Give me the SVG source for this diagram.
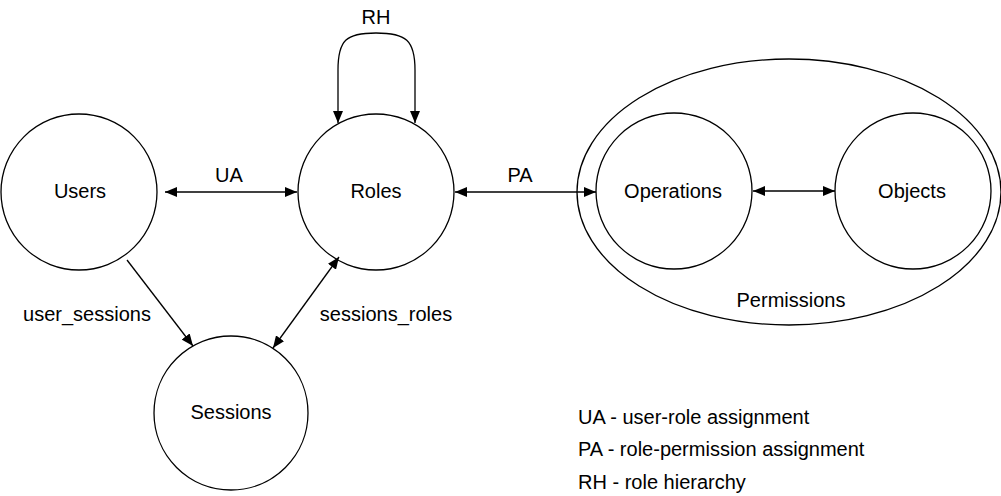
<svg xmlns="http://www.w3.org/2000/svg" width="1001" height="496" viewBox="0 0 1001 496">
  <style>
    .shape { fill: #ffffff; stroke: #000000; stroke-width: 1.3; }
    .edge { fill: none; stroke: #000000; stroke-width: 1.3; }
    text { font-family: "Liberation Sans", Arial, Helvetica, sans-serif; font-size: 20px; fill: #000000; }
    .c { text-anchor: middle; }
  </style>
  <defs>
    <marker id="arrow" viewBox="0 0 12 10" refX="12" refY="5" markerWidth="12" markerHeight="10" markerUnits="userSpaceOnUse" orient="auto-start-reverse">
      <path d="M0,0 L12,5 L0,10 Z" fill="#000000"/>
    </marker>
  </defs>

  <rect width="1001" height="496" fill="#ffffff"/>

  <!-- permission container -->
  <g id="permissions">
    <ellipse class="shape" cx="789" cy="192" rx="212" ry="133"/>
    <text class="c" x="791" y="307">Permissions</text>
  </g>

  <g id="users">
    <circle class="shape" cx="79" cy="192" r="78"/>
    <text class="c" x="80" y="198">Users</text>
  </g>

  <g id="roles">
    <circle class="shape" cx="376" cy="192" r="78"/>
    <text class="c" x="376" y="198">Roles</text>
  </g>

  <g id="sessions">
    <circle class="shape" cx="231" cy="413" r="77"/>
    <text class="c" x="231" y="419">Sessions</text>
  </g>

  <g id="operations">
    <circle class="shape" cx="674" cy="191" r="78"/>
    <text class="c" x="673" y="198">Operations</text>
  </g>

  <g id="objects">
    <circle class="shape" cx="913" cy="191" r="78"/>
    <text class="c" x="912" y="198">Objects</text>
  </g>

  <!-- connectors -->
  <g id="connectors">
    <path class="edge" d="M165,192 L297,192" marker-start="url(#arrow)" marker-end="url(#arrow)"/>
    <text class="c" x="229" y="182">UA</text>

    <path class="edge" d="M455,192 L596,192" marker-start="url(#arrow)" marker-end="url(#arrow)"/>
    <text class="c" x="520" y="182">PA</text>

    <path class="edge" d="M753,191 L835,191" marker-start="url(#arrow)" marker-end="url(#arrow)"/>

    <path class="edge" d="M338,123 L338,70 C338,40 346,33 376,33 C406,33 415,40 415,70 L415,123" marker-start="url(#arrow)" marker-end="url(#arrow)"/>
    <text class="c" x="376" y="24">RH</text>

    <path class="edge" d="M127,260 L193,346" marker-end="url(#arrow)"/>
    <text class="c" x="87" y="321">user_sessions</text>

    <path class="edge" d="M273,348 L339,257" marker-start="url(#arrow)" marker-end="url(#arrow)"/>
    <text class="c" x="386" y="321">sessions_roles</text>
  </g>

  <!-- legend -->
  <g id="legend">
    <text x="578" y="424">UA - user-role assignment</text>
    <text x="578" y="456">PA - role-permission assignment</text>
    <text x="578" y="489">RH - role hierarchy</text>
  </g>
</svg>
